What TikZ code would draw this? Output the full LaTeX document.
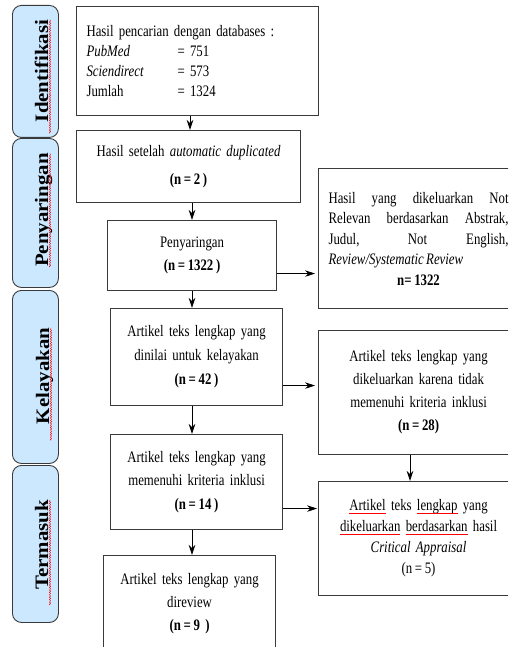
\documentclass[tikz,border=0pt]{standalone}
\usepackage{fontspec}
\setmainfont{Liberation Serif}[FakeStretch=0.8,WordSpace=0.75]
\newfontfamily\labfont{Liberation Serif}[FakeStretch=1.1]
\usetikzlibrary{arrows.meta,decorations.pathmorphing}
\definecolor{labblue}{HTML}{CCE8FF}
\definecolor{edgegray}{HTML}{3A3A3A}
\tikzset{squig/.style={red, line width=0.45pt, decorate, decoration={snake, segment length=2.4pt, amplitude=0.6pt}}}
\newcommand\redwave[1]{\setbox0\hbox{#1}\leavevmode\rlap{\copy0}\raisebox{-2.8pt}{\color{red}\hbox to \wd0{\xleaders\hbox to 1.8pt{\rule{0.9pt}{0.4pt}\raisebox{0.6pt}{\rule{0.9pt}{0.4pt}}}\hfill}}}
\begin{document}
\begin{tikzpicture}[x=1pt,y=-1pt,
 box/.style={draw=edgegray, line width=1.1pt, rectangle, inner sep=0pt, anchor=north west, align=center},
 lab/.style={draw=edgegray, line width=0.9pt, fill=labblue, rounded corners=9pt, anchor=north west, minimum width=46pt, inner sep=0pt},
 labtext/.style={rotate=90, anchor=base, font=\labfont\fontsize{19}{22}\selectfont\bfseries, inner sep=0pt},
 arr/.style={-{Stealth[length=10pt,width=6.5pt]}, line width=0.8pt}]
\useasboundingbox (0,0) rectangle (508,647);
\clip (0,0) rectangle (508,647);
\fill[white] (0,0) rectangle (508,647);

% side labels
\node[lab, minimum height=132pt] (L1) at (12,5) {};
\node[lab, minimum height=149pt] (L2) at (12,138) {};
\node[lab, minimum height=173pt] (L3) at (12,290) {};
\node[lab, minimum height=157pt] (L4) at (12,465) {};
\node[labtext] (T1) at (48,71) {Identifikasi};
\node[labtext] (T2) at (48,210) {Penyaringan};
\node[labtext] (T3) at (49,376) {Kelayakan};
\node[labtext] (T4) at (48,545) {Termasuk};
\draw[squig] ([xshift=2pt,yshift=-11pt]T1.base west) -- ([xshift=2pt]T1.base east);
\draw[squig] ([xshift=2pt]T2.base west) -- ([xshift=2pt]T2.base east);
\draw[squig] ([xshift=2pt,yshift=-16pt]T3.base west) -- ([xshift=2pt]T3.base east);
\draw[squig] ([xshift=2pt,yshift=-15pt]T4.base west) -- ([xshift=2pt]T4.base east);

% main column
\node[box, minimum width=242pt, minimum height=109pt, text width=222pt, align=left,
      font=\fontsize{16}{20}\selectfont] (b1) at (76,6)
  {Hasil pencarian dengan databases :\\
   \makebox[91pt][l]{\textit{PubMed}}= 751\\
   \makebox[91pt][l]{\textit{Sciendirect}}= 573\\
   \makebox[91pt][l]{Jumlah}= 1324};
\node[box, minimum width=224pt, minimum height=72pt, text width=214pt,
      font=\fontsize{16}{28}\selectfont] (b2) at (76,130)
  {Hasil setelah \textit{automatic duplicated}\\ \textbf{(n\,=\,2\,)}};
\node[box, minimum width=169pt, minimum height=70pt, text width=160pt,
      font=\fontsize{16}{23}\selectfont] (b3) at (107,220)
  {Penyaringan\\ \textbf{(n\,=\,1322\,)}};
\node[box, minimum width=172pt, minimum height=97pt, text width=164pt,
      font=\fontsize{16}{24}\selectfont] (b4) at (110,308)
  {Artikel teks lengkap yang\\ dinilai untuk kelayakan\\ \textbf{(n\,=\,42\,)}};
\node[box, minimum width=172pt, minimum height=95pt, text width=164pt,
      font=\fontsize{16}{23.5}\selectfont] (b5) at (110,434)
  {Artikel teks lengkap yang\\ memenuhi kriteria inklusi\\ \textbf{(n\,=\,14\,)}};
\node[box, minimum width=172pt, minimum height=96pt, text width=164pt,
      font=\fontsize{16}{23}\selectfont] (b6) at (103,555)
  {Artikel teks lengkap yang\\ direview\\ \textbf{(n\,=\,9~)}};

% right column
\node[box, minimum width=200pt, minimum height=140pt, text width=180pt, align=justify,
      font=\fontsize{16}{20.5}\selectfont] (r1) at (318,168)
  {Hasil yang dikeluarkan Not\linebreak Relevan berdasarkan Abstrak,\linebreak Judul, Not English,\linebreak \textit{Review/Systematic Review}\par
   \noindent\makebox[\linewidth]{\textbf{n=\,1322}}};
\node[box, minimum width=200pt, minimum height=124pt, text width=180pt,
      font=\fontsize{16}{23}\selectfont] (r2) at (318,330)
  {Artikel teks lengkap yang\\ dikeluarkan karena tidak\\ memenuhi kriteria inklusi\\ \textbf{(n\,=\,28)}};
\node[box, minimum width=200pt, minimum height=114pt, text width=180pt,
      font=\fontsize{16}{21}\selectfont] (r3) at (318,481)
  {\redwave{Artikel} teks \redwave{lengkap} yang\\ \redwave{dikeluarkan} \redwave{berdasarkan} hasil\\ \textit{Critical Appraisal}\\ (n\,=\,5)};

% connectors
\coordinate (colx) at (192,0);
\coordinate (colb) at (190,0);
\coordinate (colr) at (410,0);
\draw[arr] (b1.south -| colb) -- (b2.north -| colb);
\draw[arr] (b2.south -| colx) -- (b3.north -| colx);
\draw[arr] (b3.south -| colx) -- (b4.north -| colx);
\draw[arr] (b4.south -| colx) -- (b5.north -| colx);
\draw[arr] (b5.south -| colx) -- (b6.north -| colx);
\draw[arr, shorten >=3pt] ([yshift=-18pt]b3.east) -- ([yshift=-18pt]b3.east -| r1.west);
\draw[arr, shorten >=3pt] ([yshift=-28.5pt]b4.east) -- ([yshift=-28.5pt]b4.east -| r2.west);
\draw[arr, shorten >=1pt] ([yshift=-26.5pt]b5.east) -- ([yshift=-26.5pt]b5.east -| r3.west);
\draw[arr] (r2.south -| colr) -- (r3.north -| colr);
\end{tikzpicture}
\end{document}
